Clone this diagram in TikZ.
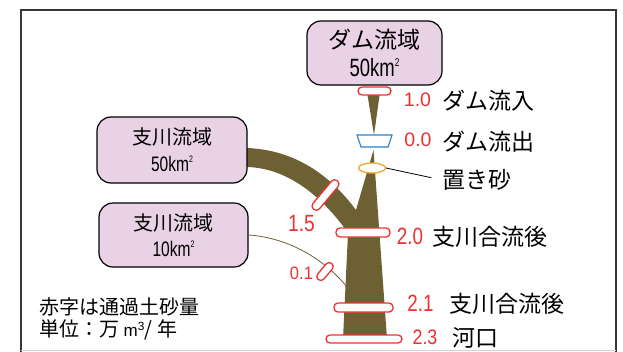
\documentclass[tikz,border=0pt]{standalone}
\usepackage{fontspec}
\usepackage{graphicx}
\setmainfont{Noto Sans CJK JP}
\newfontfamily\numfont{Liberation Sans}
\usetikzlibrary{shapes.geometric}
\definecolor{pillred}{RGB}{238,48,48}
\definecolor{river}{RGB}{109,97,52}
\definecolor{boxfill}{RGB}{233,210,229}
\definecolor{dambl}{RGB}{40,130,200}
\definecolor{sandor}{RGB}{240,160,30}
\definecolor{framegr}{RGB}{55,55,55}
\newcommand{\areaunit}[2]{{\numfont\scalebox{0.74}[1]{\fontsize{#2}{#2}\selectfont #1km\raisebox{0.42em}{\fontsize{0.45\dimexpr#2pt\relax}{1pt}\selectfont 2}}}}
\begin{document}
\begin{tikzpicture}[x=1pt,y=-1pt,
  basin/.style={draw=black, line width=1.2pt, fill=boxfill, rounded corners=14pt, inner sep=0pt, align=center},
  redpill/.style={draw=pillred, fill=white, line width=1.3pt, rounded corners=4pt, inner sep=0pt, minimum height=8.5pt},
  num/.style={text=pillred, inner sep=0pt},
  lab/.style={inner sep=0pt, anchor=west, font=\fontsize{23}{23}\selectfont},
  note/.style={inner sep=0pt, anchor=west, font=\fontsize{20}{20}\selectfont},
  flow/.style={fill=river, draw=none},
]
\useasboundingbox (0,0) rectangle (623,351);
\fill[white] (0,0) rectangle (623,351);
% frame
\draw[framegr, line width=2pt] (21,352) -- (21,10) -- (616,10) -- (616,352);
\draw[gray!35, line width=1pt] (21,350) -- (616,350);

% river body
\fill[flow] (367,92) -- (380,92) -- (374,135) -- cycle;
\fill[flow] (240,148) -- (247,148) .. controls (295,150) and (330,175) .. (356,210)
  -- (373.5,150) -- (387,339) -- (343,339) -- (348,233)
  .. controls (325,200) and (290,168) .. (247,167) -- (240,167) -- cycle;

% basins
\node[basin, minimum width=135pt, minimum height=64pt, font=\fontsize{23}{28}\selectfont] (dam) at (374.5,53)
  {ダム流域\\\areaunit{50}{25}};
\node[basin, minimum width=150pt, minimum height=66pt, font=\fontsize{20}{27}\selectfont] (b1) at (172,150)
  {支川流域\\\areaunit{50}{21}};
\node[basin, minimum width=149pt, minimum height=64pt, font=\fontsize{20}{26}\selectfont] (b2) at (173.5,235)
  {支川流域\\\areaunit{10}{21}};

% small tributary
\coordinate (join) at (347,287);
\draw[river, line width=0.8pt] (b2.east) .. controls (290,238) and (325,260) .. (join);

% dam
\draw[dambl, fill=white, line width=1.1pt] (357,135) -- (392,135) -- (388,147) -- (361,147) -- cycle;

% sand
\node[draw=sandor, fill=white, ellipse, minimum width=27pt, minimum height=10pt, inner sep=0pt, line width=1.2pt] (sand) at (372,168) {};

% red measurement marks
\node[redpill, minimum width=33pt, minimum height=8pt] (p10) at (374.5,91) {};
\node[redpill, minimum width=54pt, minimum height=9pt] (p20) at (363,232.5) {};
\node[redpill, minimum width=59pt, minimum height=9pt] (p21) at (363.5,307.5) {};
\node[redpill, minimum width=76pt, minimum height=8pt] (p23) at (364,339) {};
\node[redpill, minimum width=37pt, rotate=50] (p15) at (325.5,195) {};
\node[redpill, minimum width=21pt, minimum height=8pt, rotate=50] (p01) at (325,271.5) {};

% numbers
\node[num, font=\numfont\fontsize{19.5}{19.5}\selectfont] (n10) at (417.5,100) {1.0};
\node[num, font=\numfont\fontsize{19.5}{19.5}\selectfont] (n00) at (418,140) {0.0};
\node[num, font=\numfont\fontsize{23.5}{23.5}\selectfont] (n20) at (410,236.5) {\scalebox{0.8}[1]{2.0}};
\node[num, font=\numfont\fontsize{23.5}{23.5}\selectfont] (n21) at (420.5,303.5) {\scalebox{0.8}[1]{2.1}};
\node[num, font=\numfont\fontsize{21}{21}\selectfont] (n23) at (425,337.5) {\scalebox{0.85}[1]{2.3}};
\node[num, font=\numfont\fontsize{23.5}{23.5}\selectfont] (n15) at (301.5,223.5) {\scalebox{0.82}[1]{1.5}};
\node[num, font=\numfont\fontsize{18}{18}\selectfont] (n01) at (301.5,273.5) {\scalebox{0.92}[1]{0.1}};

% labels
\node[lab] (l10) at (442,101) {ダム流入};
\node[lab] (l00) at (442,142) {ダム流出};
\node[lab] (oki) at (442,180) {置き砂};
\node[lab] (l20) at (432,237) {支川合流後};
\node[lab] (l21) at (449,304) {支川合流後};
\node[lab] (l23) at (452,338) {河口};
\draw[black, line width=0.8pt, shorten >=11pt] (sand.east) -- (oki.west);

% notes
\node[note] (note1) at (39,307) {赤字は通過土砂量};
\node[note] (note2) at (39,330) {単位：万 {\numfont\fontsize{17}{17}\selectfont m\textsuperscript{3}}/ 年};
\end{tikzpicture}
\end{document}
